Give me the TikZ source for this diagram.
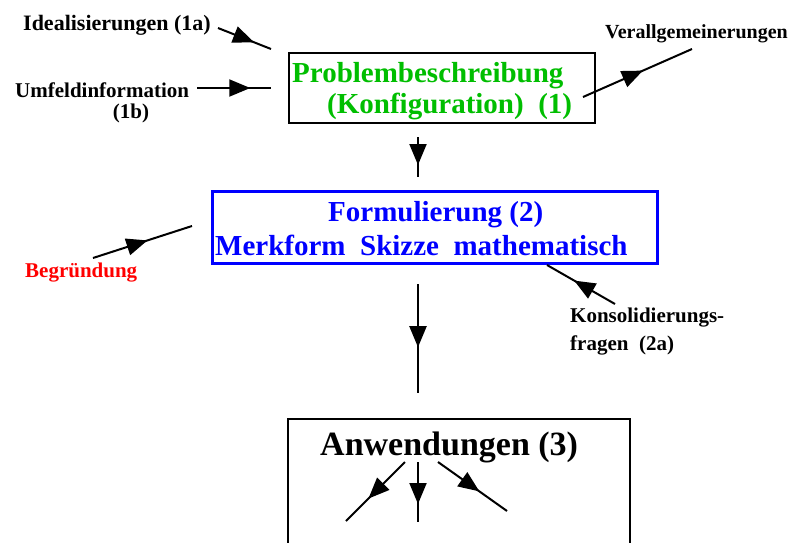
\documentclass[tikz,border=0pt]{standalone}
\usepackage{fontspec}
\setmainfont{Liberation Serif}
\usetikzlibrary{decorations.markings,arrows.meta}
\definecolor{pgreen}{RGB}{0,190,0}
\definecolor{pblue}{RGB}{0,0,255}
\definecolor{pred}{RGB}{255,0,0}
\tikzset{
  conn/.style={line width=2pt},
  midarrow/.style={conn,postaction={decorate},decoration={markings,
     mark=at position #1 with {\arrow{Triangle[length=21pt,width=17pt]}}}},
  lbl/.style={inner sep=0pt,anchor=base west,font=\bfseries\fontsize{21}{24}\selectfont},
  boxtxt/.style={inner sep=0pt,anchor=base west,font=\bfseries\fontsize{29}{33}\selectfont},
  frame/.style={draw,inner sep=0pt,line width=2pt}
}
\begin{document}
\begin{tikzpicture}[x=1pt,y=-1pt]
\clip (0,0) rectangle (793,542);
\fill[white] (0,0) rectangle (793,542);
% boxes
\node[frame,minimum width=306pt,minimum height=70pt] (b1) at (442,88) {};
\node[frame,draw=pblue,line width=3pt,minimum width=445pt,minimum height=72pt] (b2) at (434.5,227) {};
\node[frame,minimum width=342pt,minimum height=160pt] (b3) at (459,499) {};
% box texts
\node[boxtxt,text=pgreen] (t1a) at (292,82) {Problembeschreibung};
\node[boxtxt,text=pgreen] (t1b) at (327,113) {(Konfiguration)\ \ (1)};
\node[boxtxt,text=pblue] (t2a) at (328,221) {Formulierung (2)};
\node[boxtxt,text=pblue] (t2b) at (215,255) {Merkform\ \ Skizze\ \ mathematisch};
\node[inner sep=0pt,anchor=base west,font=\bfseries\fontsize{34}{38}\selectfont] (t3) at (320,455) {Anwendungen (3)};
% labels
\node[lbl,font=\bfseries\fontsize{22}{24}\selectfont] (l1a) at (23,30) {Idealisierungen (1a)};
\node[lbl] (l1b) at (15,97) {Umfeldinformation};
\node[lbl,anchor=base] (l1bb) at (131,118) {(1b)};
\node[lbl,font=\bfseries\fontsize{20}{24}\selectfont] (lv) at (605,38) {Verallgemeinerungen};
\node[lbl,text=pred] (lb) at (25,277) {Begründung};
\node[lbl] (lk1) at (570,322) {Konsolidierungs-};
\node[lbl] (lk2) at (570,350) {fragen\ \ (2a)};
% connector coordinates
\coordinate (a1s) at (218,28); \coordinate (a1e) at (271,49);
\coordinate (a2s) at (197,88); \coordinate (a2e) at (271,88);
\coordinate (avs) at (583,97); \coordinate (ave) at (692,49);
\coordinate (a12s) at (418,137); \coordinate (a12e) at (418,177);
\coordinate (abs) at (93,258); \coordinate (abe) at (192,226);
\coordinate (aks) at (615,304); \coordinate (ake) at (547,265);
\coordinate (a23s) at (418,284); \coordinate (a23e) at (418,393);
\coordinate (c0) at (405,462); \coordinate (cl) at (346,521);
\coordinate (cm0) at (418,462); \coordinate (cm) at (418,522);
\coordinate (cr0) at (438,462); \coordinate (cr) at (507,511);
% connectors
\draw[midarrow=0.68] (a1s) -- (a1e);
\draw[midarrow=0.72] (a2s) -- (a2e);
\draw[midarrow=0.55] (avs) -- (ave);
\draw[midarrow=0.7] (a12s) -- (a12e);
\draw[midarrow=0.55] (abs) -- (abe);
\draw[midarrow=0.6] (aks) -- (ake);
\draw[midarrow=0.58] (a23s) -- (a23e);
\draw[midarrow=0.62] (c0) -- (cl);
\draw[midarrow=0.7] (cm0) -- (cm);
\draw[midarrow=0.6] (cr0) -- (cr);
\end{tikzpicture}
\end{document}
